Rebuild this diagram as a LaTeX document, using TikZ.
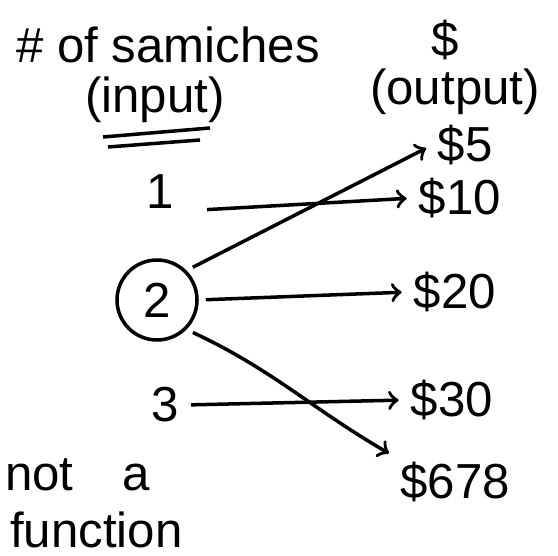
\documentclass[tikz,border=0pt]{standalone}
\usepackage{fontspec}
\setmainfont{Liberation Sans}
\begin{document}
\begin{tikzpicture}[x=1cm,y=-1cm,line width=1pt,
  lbl/.style={font=\fontsize{14}{16}\selectfont, inner sep=1pt},
  maps/.style={->, shorten >=2pt, shorten <=2pt}]
  \useasboundingbox (0,0) rectangle (5.58,5.55);
  % Headings
  \node[lbl] (samiches) at (1.68,0.45) {\# of samiches};
  \node[lbl] (input) at (1.55,1.0) {(input)};
  \node[lbl] (dollar) at (4.45,0.4) {\$};
  \node[lbl] (output) at (4.55,0.92) {(output)};
  \draw (1.03,1.37) -- (2.1,1.28);
  \draw (1.08,1.47) -- (2.0,1.40);
  % Inputs
  \node[lbl] (in1) at (1.6,1.92) {1};
  \node[lbl, draw, circle, minimum size=0.8cm] (in2) at (1.57,3.0) {2};
  \node[lbl] (in3) at (1.65,4.05) {3};
  % Outputs
  \node[lbl] (out5) at (4.65,1.45) {\$5};
  \node[lbl] (out10) at (4.6,1.98) {\$10};
  \node[lbl] (out20) at (4.55,2.92) {\$20};
  \node[lbl] (out30) at (4.52,4.0) {\$30};
  \node[lbl] (out678) at (4.55,4.82) {\$678};
  % Mappings
  \draw[maps] (2.0,2.1) coordinate (s1) -- (out10.west);
  \draw[maps] (in2.north east) -- (out5.west);
  \draw[maps] (in2.east) -- (out20.west);
  \draw[maps] (in2.south east) to[out=-25, in=150] (out678.north west);
  \draw[maps] (in3.east) -- (out30.west);
  % Note
  \node[lbl, anchor=west] (nota) at (0.0,4.75) {not\quad a};
  \node[lbl, anchor=west] (func) at (0.05,5.3) {function};
\end{tikzpicture}
\end{document}
